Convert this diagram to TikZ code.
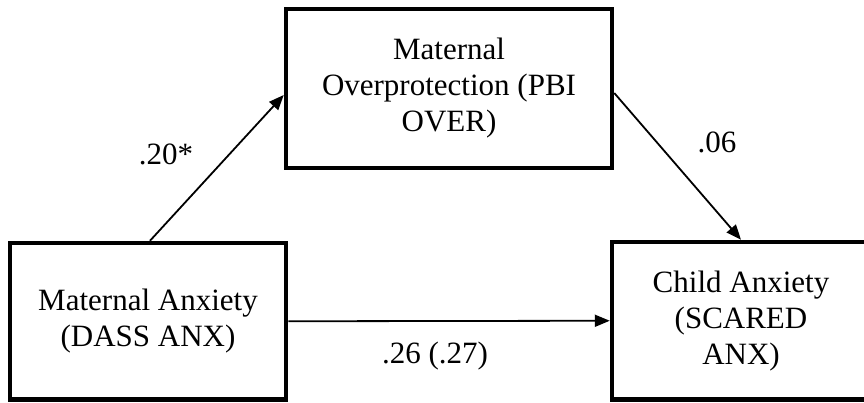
\documentclass[tikz,border=0pt]{standalone}
\usepackage{fontspec}
\setmainfont{Liberation Serif}
\usetikzlibrary{arrows.meta,calc}
\begin{document}
\begin{tikzpicture}[x=1pt,y=-1pt,
  box/.style={draw=black,line width=4.5pt,inner sep=0pt,align=center,
    font=\fontsize{31}{36}\selectfont},
  conn/.style={draw=black,line width=1.8pt,-{Triangle[length=15pt,width=12pt]}},
  lbl/.style={anchor=base,inner sep=0pt,font=\fontsize{31}{36}\selectfont}]
\clip (0,0) rectangle (864,402);
\node[box,minimum width=326pt,minimum height=159pt] (o) at (449,88.5)
  {Maternal\\Overprotection (PBI\\OVER)};
\node[box,minimum width=276pt,minimum height=156.5pt] (a) at (148,321.25)
  {Maternal Anxiety\\(DASS ANX)};
\node[box,minimum width=258pt,minimum height=157.5pt] (c) at (741,320.75)
  {Child Anxiety\\(SCARED\\ANX)};
\draw[conn] ($(a.north)+(2,0)$) -- ($(o.west)+(0,6.5)$);
\draw[conn] ($(o.east)+(0,4.5)$) -- (c.north);
\draw[conn] (a.east) -- (c.west);
\node[lbl] (l1) at (166,164) {.20*};
\node[lbl] (l2) at (717,152) {.06};
\node[lbl] (l3) at (435,363) {.26 (.27)};
\end{tikzpicture}
\end{document}
